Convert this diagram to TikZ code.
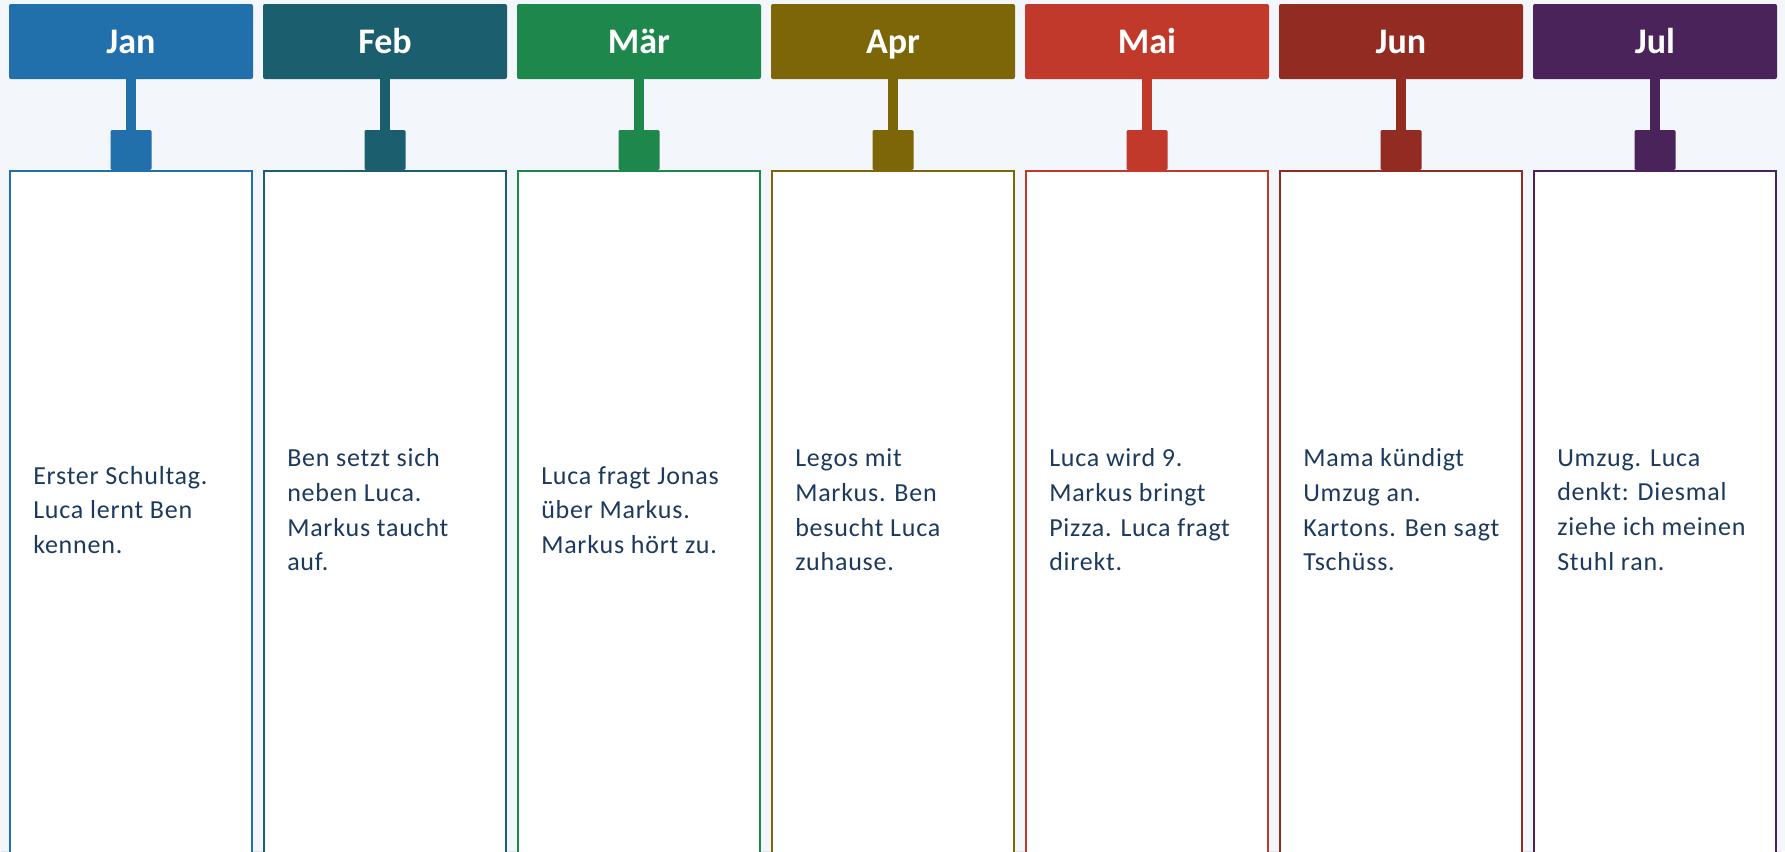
\documentclass[tikz,border=0pt]{standalone}
\usepackage{fontspec}
\setmainfont{Carlito}
\newfontfamily\notefont[LetterSpace=3]{Carlito}
\usepackage{xcolor}
\usepackage{tikz}
\usetikzlibrary{positioning}
\pgfdeclarelayer{bg}
\pgfsetlayers{bg,main}

\definecolor{pagebg}{HTML}{F3F6FB}
\definecolor{shadecol}{HTML}{E2E6EC}
\definecolor{notecol}{HTML}{1C3A5E}
\definecolor{cjan}{HTML}{2170AC}
\definecolor{cfeb}{HTML}{1B5E6E}
\definecolor{cmar}{HTML}{1E874B}
\definecolor{capr}{HTML}{7D6608}
\definecolor{cmai}{HTML}{C0392B}
\definecolor{cjun}{HTML}{922B21}
\definecolor{cjul}{HTML}{4A235A}

\tikzset{
  monthbox/.style={rectangle, rounded corners=1.5pt, minimum width=183pt, minimum height=56.25pt, inner sep=0pt, text height=17.4pt, text depth=0pt, text=white, font=\bfseries\fontsize{27}{30}\selectfont},
  tabbox/.style={rectangle, rounded corners=1pt, minimum width=30.75pt, minimum height=30pt, inner sep=0pt},
  cardbox/.style={rectangle, fill=white, line width=1.5pt, minimum width=181.5pt, minimum height=547.5pt, inner sep=0pt},
  notetext/.style={anchor=west, align=left, inner sep=0pt, text=notecol, font=\notefont\fontsize{19.5}{26}\selectfont},
  stemline/.style={line width=7.5pt},
}

\begin{document}
\begin{tikzpicture}[x=0.75pt, y=-0.75pt]
			\clip (0,0) rectangle (1785,851);
			\fill[pagebg] (0,0) rectangle (1785,851);
			% Jan
			\node[monthbox, fill=cjan] (headjan) at (131,41.5){Jan};
			\node[tabbox, fill=cjan] (tabjan) at (131,150){};
			\node[cardbox, draw=cjan, anchor=north] (cardjan) at (131,170){};
			\node[notetext] (notejan) at (33,510){Erster Schultag.\\Luca lernt Ben\\kennen.};
			\draw[stemline, cjan] (headjan.south) -- (tabjan.north);
			% Feb
			\node[monthbox, fill=cfeb] (headfeb) at (385,41.5){Feb};
			\node[tabbox, fill=cfeb] (tabfeb) at (385,150){};
			\node[cardbox, draw=cfeb, anchor=north] (cardfeb) at (385,170){};
			\node[notetext] (notefeb) at (287,510){Ben setzt sich\\neben Luca.\\Markus taucht\\auf.};
			\draw[stemline, cfeb] (headfeb.south) -- (tabfeb.north);
			% Maer
			\node[monthbox, fill=cmar] (headmar) at (639,41.5){Mär};
			\node[tabbox, fill=cmar] (tabmar) at (639,150){};
			\node[cardbox, draw=cmar, anchor=north] (cardmar) at (639,170){};
			\node[notetext] (notemar) at (541,510){Luca fragt Jonas\\über Markus.\\Markus hört zu.};
			\draw[stemline, cmar] (headmar.south) -- (tabmar.north);
			% Apr
			\node[monthbox, fill=capr] (headapr) at (893,41.5){Apr};
			\node[tabbox, fill=capr] (tabapr) at (893,150){};
			\node[cardbox, draw=capr, anchor=north] (cardapr) at (893,170){};
			\node[notetext] (noteapr) at (795,510){Legos mit\\Markus. Ben\\besucht Luca\\zuhause.};
			\draw[stemline, capr] (headapr.south) -- (tabapr.north);
			% Mai
			\node[monthbox, fill=cmai] (headmai) at (1147,41.5){Mai};
			\node[tabbox, fill=cmai] (tabmai) at (1147,150){};
			\node[cardbox, draw=cmai, anchor=north] (cardmai) at (1147,170){};
			\node[notetext] (notemai) at (1049,510){Luca wird 9.\\Markus bringt\\Pizza. Luca fragt\\direkt.};
			\draw[stemline, cmai] (headmai.south) -- (tabmai.north);
			% Jun
			\node[monthbox, fill=cjun] (headjun) at (1401,41.5){Jun};
			\node[tabbox, fill=cjun] (tabjun) at (1401,150){};
			\node[cardbox, draw=cjun, anchor=north] (cardjun) at (1401,170){};
			\node[notetext] (notejun) at (1303,510){Mama kündigt\\Umzug an.\\Kartons. Ben sagt\\Tschüss.};
			\draw[stemline, cjun] (headjun.south) -- (tabjun.north);
			% Jul
			\node[monthbox, fill=cjul] (headjul) at (1655,41.5){Jul};
			\node[tabbox, fill=cjul] (tabjul) at (1655,150){};
			\node[cardbox, draw=cjul, anchor=north] (cardjul) at (1655,170){};
			\node[notetext] (notejul) at (1557,510){Umzug. Luca\\denkt: Diesmal\\ziehe ich meinen\\Stuhl ran.};
			\draw[stemline, cjul] (headjul.south) -- (tabjul.north);
			% soft shade round the cards
			\begin{pgfonlayer}{bg}
				\fill[pagebg] (0,0) rectangle (1785,851);
				\fill[shadecol] ([xshift=-6pt, yshift=-2pt]cardjan.north west) rectangle ([xshift=3pt]cardjan.south east);
				\fill[shadecol] ([xshift=-6pt, yshift=-2pt]cardfeb.north west) rectangle ([xshift=3pt]cardfeb.south east);
				\fill[shadecol] ([xshift=-6pt, yshift=-2pt]cardmar.north west) rectangle ([xshift=3pt]cardmar.south east);
				\fill[shadecol] ([xshift=-6pt, yshift=-2pt]cardapr.north west) rectangle ([xshift=3pt]cardapr.south east);
				\fill[shadecol] ([xshift=-6pt, yshift=-2pt]cardmai.north west) rectangle ([xshift=3pt]cardmai.south east);
				\fill[shadecol] ([xshift=-6pt, yshift=-2pt]cardjun.north west) rectangle ([xshift=3pt]cardjun.south east);
				\fill[shadecol] ([xshift=-6pt, yshift=-2pt]cardjul.north west) rectangle ([xshift=3pt]cardjul.south east);
			\end{pgfonlayer}
		\end{tikzpicture}
\end{document}
